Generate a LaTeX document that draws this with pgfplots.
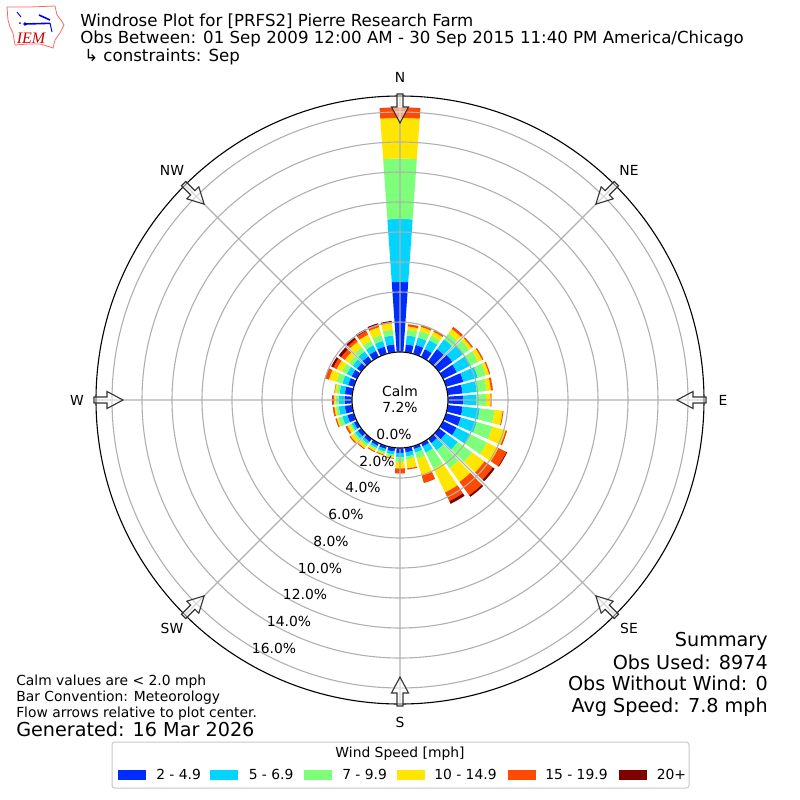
\documentclass[border=0pt]{standalone}
\usepackage{fontspec}
\setmainfont{DejaVu Sans}
\newfontfamily\logofont{Liberation Serif}
\usepackage{pgfplots}
\pgfplotsset{compat=1.18}
\usepgfplotslibrary{polar}
\definecolor{c1}{HTML}{002DFF}
\definecolor{c2}{HTML}{00D4FF}
\definecolor{c3}{HTML}{7DFF7A}
\definecolor{c4}{HTML}{FFE600}
\definecolor{c5}{HTML}{FF4A00}
\definecolor{c6}{HTML}{800000}
\definecolor{gridc}{HTML}{B0B0B0}
\newcommand\fs[1]{\fontsize{#1}{#1}\selectfont}
% one segment of a bar: bearing, lower value, upper value, colour
\newcommand\wseg[4]{%
  \pgfmathsetmacro\aA{90-#1-4}\pgfmathsetmacro\aB{90-#1-2}\pgfmathsetmacro\aC{90-#1}%
  \pgfmathsetmacro\aD{90-#1+2}\pgfmathsetmacro\aE{90-#1+4}%
  \addplot[fill=#4,draw=none,forget plot] coordinates {(\aA,#2)(\aB,#2)(\aC,#2)(\aD,#2)(\aE,#2)(\aE,#3)(\aD,#3)(\aC,#3)(\aB,#3)(\aA,#3)} --cycle;%
}
% one bar: bearing and the cumulative top of each of the six speed classes, percent
\newcommand\W[7]{%
  \wseg{#1}{0}{#2}{c1}\wseg{#1}{#2}{#3}{c2}\wseg{#1}{#3}{#4}{c3}%
  \wseg{#1}{#4}{#5}{c4}\wseg{#1}{#5}{#6}{c5}\wseg{#1}{#6}{#7}{c6}%
}
\begin{document}
\begin{tikzpicture}
\path[use as bounding box] (0,0) rectangle (600pt,-600pt);
\begin{polaraxis}[
  at={(300pt,-300pt)},anchor=center,
  scale only axis,width=456pt,height=456pt,
  xmin=0,xmax=360,ymin=-3.2,ymax=17.067,
  y coord trafo/.code={\pgfmathparse{#1+3.2}},
  y coord inv trafo/.code={\pgfmathparse{#1-3.2}},
  xtick={0,45,...,315},ytick={0,2,...,16},
  xticklabels={},yticklabels={},
  major tick length=0pt,
  grid=major,
  grid style={color=gridc,line width=.83pt},
  x axis line style={black,line width=.83pt},
  y axis line style={draw=none},
  axis on top,
]
\W{10}{.53}{1.13}{1.5}{1.73}{1.87}{1.87}
\W{20}{.62}{1.13}{1.58}{1.87}{2.0}{2.0}
\W{30}{.58}{1.24}{1.58}{1.87}{1.98}{1.98}
\W{40}{1.0}{1.8}{2.3}{2.66}{2.82}{2.82}
\W{50}{1.13}{2.0}{2.5}{2.72}{2.8}{2.8}
\W{60}{1.02}{2.0}{2.6}{2.9}{2.98}{2.98}
\W{70}{1.2}{2.2}{2.75}{2.98}{3.05}{3.05}
\W{80}{1.0}{1.95}{2.6}{2.9}{3.02}{3.02}
\W{90}{1.02}{1.91}{2.53}{2.84}{2.9}{2.9}
\W{100}{1.0}{2.15}{3.13}{3.68}{3.73}{3.73}
\W{110}{1.02}{2.13}{3.22}{4.13}{4.22}{4.22}
\W{120}{1.0}{2.0}{3.24}{4.1}{4.69}{4.75}
\W{130}{.58}{1.55}{2.75}{3.76}{4.45}{4.6}
\W{140}{.35}{.95}{2.42}{3.55}{4.65}{4.78}
\W{150}{.25}{.7}{1.9}{3.66}{4.3}{4.5}
\W{160}{.2}{.45}{.87}{2.05}{2.55}{2.55}
\W{170}{.3}{.58}{.78}{1.38}{1.45}{1.45}
\W{180}{.35}{.62}{.92}{1.36}{1.69}{1.69}
\W{190}{.25}{.45}{.6}{.7}{.73}{.73}
\W{200}{.2}{.38}{.5}{.6}{.64}{.64}
\W{210}{.2}{.36}{.48}{.6}{.65}{.65}
\W{220}{.25}{.42}{.6}{.8}{.85}{.85}
\W{230}{.28}{.5}{.65}{.88}{.95}{.95}
\W{240}{.22}{.4}{.52}{.72}{.83}{.83}
\W{250}{.45}{.8}{1.1}{1.2}{1.27}{1.27}
\W{260}{.5}{.9}{1.1}{1.2}{1.3}{1.3}
\W{270}{.5}{.9}{1.1}{1.2}{1.3}{1.33}
\W{280}{.5}{.85}{1.05}{1.18}{1.2}{1.2}
\W{290}{.4}{.8}{1.2}{1.73}{2.0}{2.0}
\W{300}{.4}{.75}{1.1}{1.5}{1.75}{1.9}
\W{310}{.35}{.7}{1.0}{1.35}{1.65}{1.85}
\W{320}{.4}{.8}{1.15}{1.6}{1.8}{1.95}
\W{330}{.45}{.85}{1.2}{1.65}{1.92}{2.05}
\W{340}{.5}{.9}{1.3}{1.85}{2.05}{2.12}
\W{350}{.53}{1.13}{1.51}{1.95}{2.03}{2.1}
\W{360}{4.67}{8.87}{12.9}{15.6}{16.3}{16.3}
\end{polaraxis}
\begin{scope}[x=.75pt,y=-.75pt]
% centre
\fill[white] (400,400) circle[radius=48];
\draw[black,line width=.83pt] (400,400) circle[radius=48];
\node[font=\fs{10.4},inner sep=0,anchor=base] at (400,396) {Calm};
\node[font=\fs{10.4},inner sep=0,anchor=base] at (400,412) {7.2\%};
% flow arrows
\foreach \r in {0,45,...,315}{
  \begin{scope}[shift={(400,400)},rotate=\r]
    \filldraw[draw=black!80,fill=white,fill opacity=.5,line width=.83pt]
      (306,-3)--(293,-3)--(293,-8.5)--(277,0)--(293,8.5)--(293,3)--(306,3)--cycle;
  \end{scope}
}
% direction labels
\node[font=\fs{10.4},inner sep=0] at (400,77) {N};
\node[font=\fs{10.4},inner sep=0] at (629,170) {NE};
\node[font=\fs{10.4},inner sep=0] at (723,400) {E};
\node[font=\fs{10.4},inner sep=0] at (629,628) {SE};
\node[font=\fs{10.4},inner sep=0] at (400,722) {S};
\node[font=\fs{10.4},inner sep=0] at (172,628) {SW};
\node[font=\fs{10.4},inner sep=0] at (77,400) {W};
\node[font=\fs{10.4},inner sep=0] at (172,170) {NW};
% radial labels
\node[font=\fs{10.4},inner sep=0] at (394,434) {0.0\%};
\node[font=\fs{10.4},inner sep=0] at (377,461) {2.0\%};
\node[font=\fs{10.4},inner sep=0] at (363,487) {4.0\%};
\node[font=\fs{10.4},inner sep=0] at (346,514) {6.0\%};
\node[font=\fs{10.4},inner sep=0] at (331,541) {8.0\%};
\node[font=\fs{10.4},inner sep=0] at (320,568) {10.0\%};
\node[font=\fs{10.4},inner sep=0] at (305,594) {12.0\%};
\node[font=\fs{10.4},inner sep=0] at (289,621) {14.0\%};
\node[font=\fs{10.4},inner sep=0] at (274,648) {16.0\%};
% title
\node[font=\fs{12.47},inner sep=0,anchor=base west] at (80,26) {Windrose Plot for [PRFS2] Pierre Research Farm};
\node[font=\fs{12.47},inner sep=0,anchor=base west] at (80,43) {Obs Between: 01 Sep 2009 12:00 AM - 30 Sep 2015 11:40 PM America/Chicago};
\node[font=\fs{12.47},inner sep=0,anchor=base west] at (84,61) {↳ constraints: Sep};
% notes
\node[font=\fs{10.4},inner sep=0,anchor=base west] at (16,685) {Calm values are < 2.0 mph};
\node[font=\fs{10.4},inner sep=0,anchor=base west] at (16,701) {Bar Convention: Meteorology};
\node[font=\fs{10.4},inner sep=0,anchor=base west] at (16,717) {Flow arrows relative to plot center.};
\node[font=\fs{14.4},inner sep=0,anchor=base west] at (16,736) {Generated: 16 Mar 2026};
\node[font=\fs{14.4},inner sep=0,anchor=base east] at (768,646) {Summary};
\node[font=\fs{14.4},inner sep=0,anchor=base east] at (768,669) {Obs Used: 8974};
\node[font=\fs{14.4},inner sep=0,anchor=base east] at (768,690) {Obs Without Wind: 0};
\node[font=\fs{14.4},inner sep=0,anchor=base east] at (768,712) {Avg Speed: 7.8 mph};
% legend
\draw[draw=gridc!70,fill=white,rounded corners=2pt,line width=.75pt] (112,742) rectangle (689,788);
\node[font=\fs{10.4},inner sep=0,anchor=base] at (400,757) {Wind Speed [mph]};
\foreach \x/\c/\tx/\t in {118/c1/156/2 - 4.9,210/c2/248.5/5 - 6.9,304/c3/342/7 - 9.9,396.5/c4/434/10 - 14.9,508/c5/545/15 - 19.9,618.5/c6/656.5/20+}{
  \fill[\c] (\x,770) rectangle ++(28,9.5);
  \node[font=\fs{10.4},inner sep=0,anchor=base west] at (\tx,779) {\t};
}
% logo
\draw[red!60!white,line width=.6pt,fill=white,line join=round]
  (7,7)--(30,7)--(55,6)--(57,15)--(61,20)--(64,25)--(60,33)--(55,40)--(53,48)--(47,46)--(40,44)--(28,44)--(15,45)--(13,33)--(10,27)--(8,20)--cycle;
\draw[blue!90!black,line width=1.2pt] (25,24)--(50,23.3);
\fill[blue!90!black] (25,24) circle[radius=1.8];
\draw[blue!90!black,line width=.7pt] (17,12)--(21,17);
\draw[blue!90!black,line width=1.2pt] (39,15)--(50,20);
\draw[blue!90!black,line width=.7pt] (50,23)--(52,32);
\fill[blue!90!black] (20,23) circle[radius=1];
\node[font=\logofont\itshape\fs{12},text=red!80!black,inner sep=0,anchor=base] at (31,43) {IEM};
\end{scope}
\end{tikzpicture}
\end{document}
